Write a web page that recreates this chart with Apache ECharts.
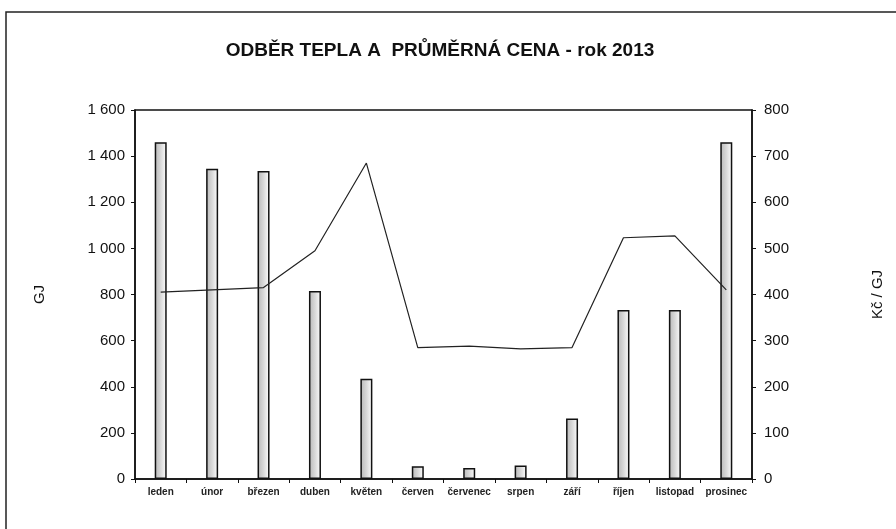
<!DOCTYPE html>
<html>
<head>
<meta charset="utf-8">
<script src="https://cdn.jsdelivr.net/npm/echarts@6/dist/echarts.min.js"></script>
<style>
  html, body { margin: 0; padding: 0; background: #fff; }
  #chart { width: 896px; height: 529px; }
</style>
</head>
<body>
<div id="chart"></div>
<script>
const months = ['leden', 'únor', 'březen', 'duben', 'květen', 'červen', 'červenec', 'srpen', 'září', 'říjen', 'listopad', 'prosinec']
// odběr tepla (GJ)
const heatGJ = [1460, 1345, 1335, 815, 435, 55, 48, 58, 262, 733, 733, 1460]
// průměrná cena (Kč/GJ)
const priceCZK = [405, 410, 415, 495, 685, 285, 288, 282, 285, 523, 527, 410]

const chart = echarts.init(document.getElementById('chart'), null, { renderer: 'canvas' })

const fmtThousands = v => v >= 1000 ? String(v).replace(/\B(?=(\d{3})+(?!\d))/g, ' ') : String(v)

const option = {
  backgroundColor: '#fff',
  animation: false,
  textStyle: { fontFamily: 'Liberation Sans, Arial, sans-serif', color: '#111' },
  title: {
    text: 'ODBĚR TEPLA A  PRŮMĚRNÁ CENA - rok 2013',
    left: 435,
    textAlign: 'center',
    top: 36,
    textStyle: { fontSize: 19, fontWeight: 'bold', color: '#111' },
  },
  graphic: [
    {
      type: 'rect',
      shape: { x: 6, y: 12, width: 1000, height: 1000 },
      style: { fill: 'none', stroke: '#222', lineWidth: 1.5 },
      silent: true,
    },
  ],
  grid: {
    left: 135,
    right: 144,
    top: 110,
    bottom: 50,
    show: true,
    borderColor: '#111',
    borderWidth: 1.5,
  },
  xAxis: {
    type: 'category',
    data: months,
    axisLine: { lineStyle: { color: '#111', width: 1.5 } },
    axisTick: { show: true, length: 4, lineStyle: { color: '#111' } },
    axisLabel: { interval: 0, fontSize: 10, fontWeight: 'bold', color: '#222', margin: 8 },
  },
  yAxis: [
    {
      type: 'value',
      min: 0,
      max: 1600,
      interval: 200,
      name: 'GJ',
      nameLocation: 'middle',
      nameGap: 88,
      nameTextStyle: { fontSize: 15, color: '#111' },
      axisLine: { show: true, lineStyle: { color: '#111', width: 1.5 } },
      axisTick: { show: true, length: 4, lineStyle: { color: '#111' } },
      axisLabel: { fontSize: 15, color: '#111', margin: 10, formatter: fmtThousands },
      splitLine: { show: false },
    },
    {
      type: 'value',
      min: 0,
      max: 800,
      interval: 100,
      name: 'Kč / GJ',
      nameLocation: 'middle',
      nameGap: 118,
      nameRotate: 90,
      nameTextStyle: { fontSize: 15, color: '#111' },
      axisLine: { show: true, lineStyle: { color: '#111', width: 1.5 } },
      axisTick: { show: true, length: 4, lineStyle: { color: '#111' } },
      axisLabel: { fontSize: 15, color: '#111', margin: 12 },
      splitLine: { show: false },
    },
  ],
  series: [
    {
      name: 'Odběr tepla',
      type: 'bar',
      data: heatGJ,
      barWidth: 12,
      itemStyle: {
        color: new echarts.graphic.LinearGradient(0, 0, 1, 0, [
          { offset: 0, color: '#b8b8b8' },
          { offset: 0.5, color: '#d8d8d8' },
          { offset: 1, color: '#ffffff' },
        ]),
        borderColor: '#111',
        borderWidth: 1.5,
      },
    },
    {
      name: 'Průměrná cena',
      type: 'line',
      yAxisIndex: 1,
      data: priceCZK,
      symbol: 'none',
      lineStyle: { color: '#222', width: 1.2 },
      z: 3,
    },
  ],
}

chart.setOption(option)
</script>
</body>
</html>
